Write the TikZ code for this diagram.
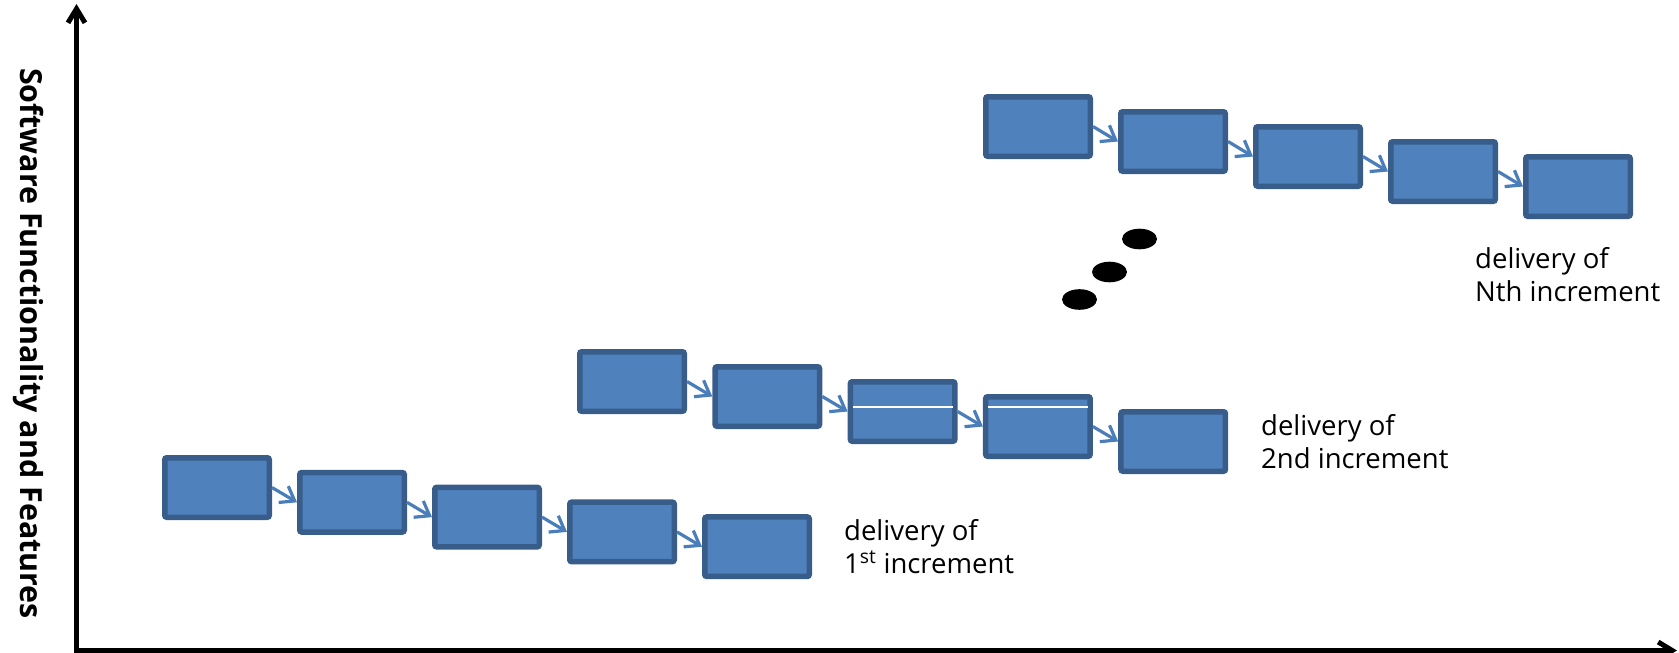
\documentclass[tikz,border=0pt]{standalone}
\usepackage{fontspec}
\setmainfont{Open Sans}
\usetikzlibrary{arrows.meta,calc}
\definecolor{boxfill}{HTML}{4F81BD}
\definecolor{boxline}{HTML}{385D8A}
\definecolor{flow}{HTML}{4A7EBB}

\begin{document}
\begin{tikzpicture}[x=1pt,y=-1pt,
  stage/.style={draw=boxline, fill=boxfill, line width=5.5pt, rounded corners=2pt,
                minimum width=104.5pt, minimum height=59.5pt, inner sep=0pt},
  flowarrow/.style={draw=flow, line width=3.2pt,
                    -{Straight Barb[length=13pt,width=19pt]}},
  axisline/.style={line width=5pt,
                   {Straight Barb[length=14pt,width=17pt]}-{Straight Barb[length=14pt,width=17pt]}},
  note/.style={font=\fontsize{27.5}{33}\selectfont, align=left, anchor=base west, inner sep=0pt},
  seamline/.style={draw=white, line width=1.3pt},
  ellipsis/.style={fill=black}
]
\useasboundingbox (0,0) rectangle (1679,653);

% axes
\coordinate (ytop) at (76.5,4);
\coordinate (origin) at (76.5,650.5);
\coordinate (xend) at (1677,650.5);
\draw[axisline] (ytop) -- (origin) -- (xend);
\node[font=\bfseries\fontsize{30.4}{30.4}\selectfont, rotate=-90, anchor=base, inner sep=0pt]
  (ylabel) at (20,343.5) {Software Functionality and Features};

% first increment
\foreach \k in {1,...,5}
  \node[stage] (a\k) at ({217+135*(\k-1)},{487.5+14.8*(\k-1)}) {};
% second increment
\foreach \k in {1,...,5}
  \node[stage] (b\k) at ({632+135.3*(\k-1)},{381.5+15*(\k-1)}) {};
% Nth increment
\foreach \k in {1,...,5}
  \node[stage] (c\k) at ({1038+135*(\k-1)},{126.5+15*(\k-1)}) {};

\foreach \k [evaluate=\k as \n using int(\k+1)] in {1,...,4} {
  \draw[flowarrow] (a\k.east) -- (a\n.west);
  \draw[flowarrow] (b\k.east) -- (b\n.west);
  \draw[flowarrow] (c\k.east) -- (c\n.west);
}

% thin light seam across the middle stages of the second increment
\coordinate (seam) at (0,407);
\draw[seamline] ($(b3.west |- seam)+(5,0)$) -- ($(b3.east |- seam)+(-5,0)$);
\draw[seamline] ($(b4.west |- seam)+(5,0)$) -- ($(b4.east |- seam)+(-5,0)$);

% ellipsis between increments
\fill[ellipsis] (1079.5,299.5) ellipse [x radius=17.5, y radius=10.3];
\fill[ellipsis] (1109.5,272) ellipse [x radius=17.5, y radius=10.3];
\fill[ellipsis] (1139.5,239) ellipse [x radius=17.5, y radius=10.3];

% delivery labels (anchored on the baseline of the last line)
\node[note] (n1) at (844,573) {delivery of\\1\textsuperscript{st} increment};
\node[note] (n2) at (1261,468) {delivery of\\2nd increment};
\node[note] (n3) at (1475,301) {delivery of\\Nth increment};
\end{tikzpicture}
\end{document}
